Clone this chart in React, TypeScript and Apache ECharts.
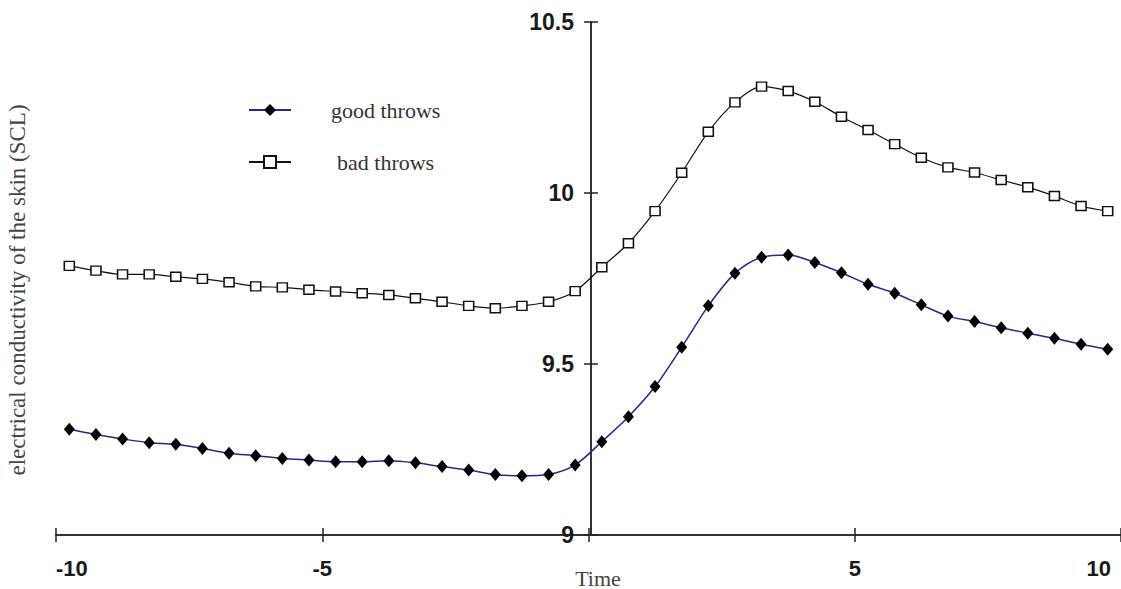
import React, { useEffect, useRef } from "react";
import * as echarts from "echarts";

const times = [
  -9.75, -9.25, -8.75, -8.25, -7.75, -7.25, -6.75, -6.25, -5.75, -5.25,
  -4.75, -4.25, -3.75, -3.25, -2.75, -2.25, -1.75, -1.25, -0.75, -0.25,
  0.25, 0.75, 1.25, 1.75, 2.25, 2.75, 3.25, 3.75, 4.25, 4.75,
  5.25, 5.75, 6.25, 6.75, 7.25, 7.75, 8.25, 8.75, 9.25, 9.75,
];

const goodThrows = [
  9.309, 9.294, 9.281, 9.27, 9.265, 9.253, 9.239, 9.232, 9.224, 9.219,
  9.214, 9.214, 9.217, 9.211, 9.2, 9.19, 9.177, 9.173, 9.177, 9.205,
  9.273, 9.346, 9.434, 9.549, 9.67, 9.765, 9.812, 9.819, 9.797, 9.767,
  9.733, 9.707, 9.673, 9.64, 9.624, 9.606, 9.59, 9.575, 9.558, 9.543,
];

const badThrows = [
  9.787, 9.773, 9.762, 9.762, 9.755, 9.749, 9.739, 9.727, 9.724, 9.717,
  9.712, 9.707, 9.702, 9.692, 9.682, 9.67, 9.663, 9.67, 9.682, 9.713,
  9.783, 9.853, 9.947, 10.059, 10.179, 10.265, 10.311, 10.298, 10.267, 10.223,
  10.184, 10.143, 10.103, 10.075, 10.06, 10.038, 10.017, 9.991, 9.962, 9.947,
];

const xTickLabels: Record<string, string> = { "-10": "-10", "-5": "-5", "0": "", "5": "5", "10": "{r|10}" };
const yTickLabels: Record<string, string> = { "9": "9", "9.5": "9.5", "10": "10", "10.5": "10.5" };

const seriesNames = ["good throws", "bad throws"];
const yTitle = "electrical conductivity of the skin (SCL)";
const xTitle = "Time";

const digitFont = '"Liberation Sans", Arial, sans-serif';
const serifFont = '"Liberation Serif", "Times New Roman", serif';

const GRID_LEFT = 56;
const GRID_RIGHT = -5;
const CHART_W = 1121;
// x-position (px) where x = 0 falls
const ZERO_X = GRID_LEFT + (CHART_W - GRID_LEFT - GRID_RIGHT) / 2;

export default function App() {
  const ref = useRef<HTMLDivElement>(null);
  useEffect(() => {
    if (!ref.current) return;
    const chart = echarts.init(ref.current, undefined, { renderer: "svg" });
    const labelFontStyle = {
      fontFamily: digitFont,
      fontSize: 22,
      fontWeight: "bold" as const,
      color: "#1a1a1a",
    };
    const yOffset = -(ZERO_X - GRID_LEFT);
    chart.setOption({
      animation: false,
      backgroundColor: "#ffffff",
      grid: { left: GRID_LEFT, right: GRID_RIGHT, top: 22, bottom: 54, containLabel: false },
      legend: {
        orient: "vertical",
        left: 243,
        top: 93,
        itemWidth: 42,
        itemHeight: 15,
        itemGap: 28,
        data: [
          { name: seriesNames[0] },
          { name: seriesNames[1], textStyle: { padding: [0, 0, 0, 41] } },
        ],
        textStyle: {
          fontFamily: serifFont,
          fontSize: 22,
          color: "#333",
          lineHeight: 24,
          padding: [0, 0, 0, 35],
        },
      },
      xAxis: [
        {
          type: "value",
          splitLine: { show: false },
          min: -10,
          max: 10,
          interval: 5,
          position: "bottom",
          axisLine: { show: true, onZero: false, lineStyle: { color: "#333", width: 2 } },
          axisTick: { show: true, length: 7, lineStyle: { color: "#222", width: 1.5 } },
          axisLabel: {
            margin: 22,
            ...labelFontStyle,
            alignMinLabel: "left",
            alignMaxLabel: "right",
            formatter: (v: number) => xTickLabels[String(v)] ?? "",
            rich: { r: { ...labelFontStyle, padding: [0, 10, 0, 0] } },
          },
        },
        {
          type: "value",
          splitLine: { show: false },
          min: -10,
          max: 10,
          interval: 5,
          position: "bottom",
          axisLine: { show: false, onZero: false },
          axisTick: { show: true, inside: true, length: 7, lineStyle: { color: "#222", width: 1.5 } },
          axisLabel: { show: false },
        },
      ],
      yAxis: [
        {
          type: "value",
          splitLine: { show: false },
          min: 9,
          max: 10.5,
          interval: 0.5,
          position: "left",
          offset: yOffset,
          axisLine: { show: true, onZero: false, lineStyle: { color: "#333", width: 2 } },
          axisTick: { show: true, length: 7, lineStyle: { color: "#222", width: 1.5 } },
          axisLabel: {
            margin: 17,
            ...labelFontStyle,
            fontSize: 23,
            formatter: (v: number) => yTickLabels[String(v)] ?? String(v),
          },
        },
        {
          type: "value",
          splitLine: { show: false },
          min: 9,
          max: 10.5,
          interval: 0.5,
          position: "left",
          offset: yOffset,
          axisLine: { show: false, onZero: false },
          axisTick: { show: true, inside: true, length: 7, lineStyle: { color: "#222", width: 1.5 } },
          axisLabel: { show: false },
        },
      ],
      graphic: [
        {
          type: "text",
          x: 17,
          y: 290,
          rotation: Math.PI / 2,
          style: {
            text: yTitle,
            font: `23px ${serifFont}`,
            fill: "#444",
            textAlign: "center",
            textVerticalAlign: "middle",
          },
        },
        {
          type: "text",
          x: 598,
          y: 578,
          style: {
            text: xTitle,
            font: `22px ${serifFont}`,
            fill: "#444",
            textAlign: "center",
            textVerticalAlign: "middle",
          },
        },
      ],
      series: [
        {
          name: seriesNames[0],
          type: "line",
          xAxisIndex: 0,
          yAxisIndex: 0,
          smooth: 0.3,
          data: times.map((t, i) => [t, goodThrows[i]]),
          symbol: "diamond",
          symbolSize: [11, 13],
          lineStyle: { color: "#26268f", width: 1.5 },
          itemStyle: { color: "#000", borderColor: "#000", borderWidth: 0 },
          z: 3,
        },
        {
          name: seriesNames[1],
          type: "line",
          xAxisIndex: 0,
          yAxisIndex: 0,
          smooth: 0.3,
          data: times.map((t, i) => [t, badThrows[i]]),
          symbol: "rect",
          symbolSize: [10, 9],
          lineStyle: { color: "#111", width: 1.2 },
          itemStyle: { color: "#fff", borderColor: "#111", borderWidth: 1.5 },
          z: 3,
        },
      ],
    });
    return () => chart.dispose();
  }, []);
  return (
    <div
      ref={ref}
      style={{ position: "absolute", left: 0, top: 0, width: 1121, height: 589 }}
    />
  );
}
